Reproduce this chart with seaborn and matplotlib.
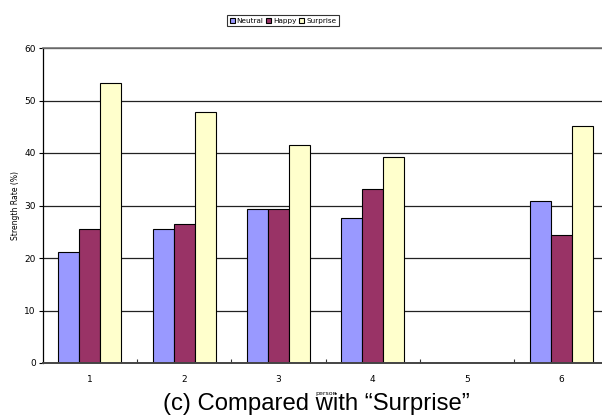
import matplotlib
matplotlib.use("Agg")
import matplotlib.pyplot as plt
import seaborn as sns
import pandas as pd
from matplotlib.ticker import FixedLocator, NullFormatter

persons = ["1", "2", "3", "4", "5", "6"]
neutral = [21.1, 25.6, 29.4, 27.6, 0, 30.8]
happy = [25.6, 26.5, 29.4, 33.1, 0, 24.3]
surprise = [53.4, 47.8, 41.5, 39.3, 0, 45.1]
series = ["Neutral", "Happy", "Surprise"]
colors = ["#9999FF", "#993366", "#FFFFCC"]
yticks = [0, 10, 20, 30, 40, 50, 60]

df = pd.DataFrame({
    "person": persons * 3,
    "value": neutral + happy + surprise,
    "series": [s for s in series for _ in persons],
})

sns.set_style("white")
plt.rcParams["font.family"] = ["DejaVu Sans"]
plt.rcParams["text.color"] = "black"
plt.rcParams["xtick.color"] = "black"
plt.rcParams["ytick.color"] = "black"
plt.rcParams["axes.labelcolor"] = "black"

fig = plt.figure(figsize=(6.02, 4.2), dpi=100)
ax = fig.add_axes([42.7 / 602, 1 - 363 / 420, (608.5 - 42.7) / 602, (363 - 48) / 420])

sns.barplot(data=df, x="person", y="value", hue="series", order=persons,
            hue_order=series, palette=colors, width=0.67, gap=0,
            edgecolor="black", linewidth=0.8, saturation=1, ax=ax, zorder=3)

ax.set_xlim(-0.5, 5.5)
ax.set_ylim(0, 60)
ax.set_yticks(yticks)
ax.yaxis.grid(True, color="#222222", linewidth=0.9, zorder=0)
ax.set_axisbelow(True)
ax.tick_params(axis="y", direction="out", length=3, width=0.8, labelsize=6.5,
               left=True, pad=2, color="black")
ax.tick_params(axis="x", which="major", length=0, labelsize=6.5, pad=9)
ax.xaxis.set_minor_locator(FixedLocator([0.5, 1.5, 2.5, 3.5, 4.5]))
ax.xaxis.set_minor_formatter(NullFormatter())
ax.tick_params(axis="x", which="minor", direction="in", length=3, width=0.8,
               bottom=True, color="#333333")

ax.spines["left"].set_color("black")
ax.spines["left"].set_linewidth(0.9)
ax.spines["bottom"].set_color("#444444")
ax.spines["bottom"].set_linewidth(1.4)
ax.spines["bottom"].set_zorder(5)
ax.spines["top"].set_color("#777777")
ax.spines["top"].set_linewidth(1.2)
ax.spines["right"].set_visible(False)

ax.set_xlabel("")
ax.set_ylabel("Strength Rate (%)", fontsize=5.5, labelpad=3)

handles, labels = ax.get_legend_handles_labels()
ax.legend_.remove()
leg = fig.legend(handles, labels, loc="center", bbox_to_anchor=(283 / 602, 1 - 20.7 / 420),
                 ncol=3, fontsize=5.2, frameon=True, fancybox=False, edgecolor="black",
                 handlelength=0.7, handleheight=0.8, handletextpad=0.25, columnspacing=0.4,
                 borderpad=0.35, borderaxespad=0)
leg.get_frame().set_linewidth(0.8)

fig.text(316 / 602, 1 - 410 / 420, "(c) Compared with \u201cSurprise\u201d",
         fontsize=17.2, ha="center", va="baseline", family=["Liberation Sans", "DejaVu Sans"],
         zorder=5)
fig.text(326 / 602, 1 - 393 / 420, "person", fontsize=4.5, ha="center", va="center",
         zorder=10)

fig.savefig("out.png", dpi=100)
